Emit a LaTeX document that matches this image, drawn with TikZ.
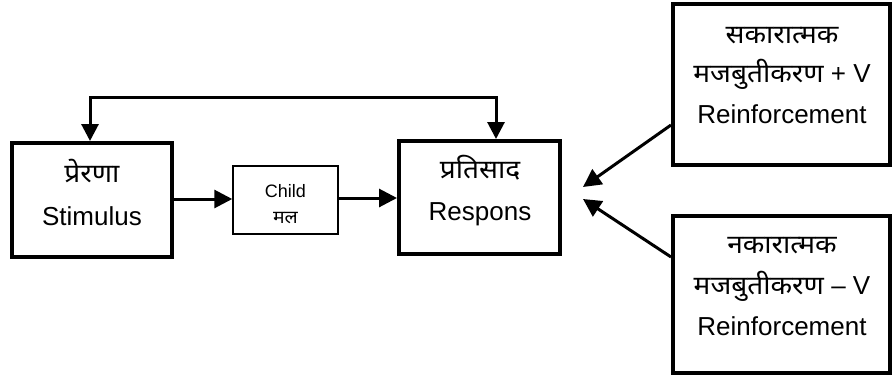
\documentclass[tikz,border=0pt]{standalone}
\usepackage{fontspec}
\setmainfont{Liberation Sans}
\newfontfamily\deva[Script=Devanagari,FakeStretch=1.08]{Noto Sans}
\usetikzlibrary{arrows.meta,calc}
\newcommand{\latbig}{\fontsize{26}{30}\selectfont}
\newcommand{\devbig}{\deva\fontsize{26}{30}\selectfont}
\newcommand{\latsm}{\fontsize{18}{20}\selectfont}
\newcommand{\devsm}{\deva\fontsize{18}{20}\selectfont}
\tikzset{
  bigbox/.style={draw, line width=4pt, inner sep=0pt},
  smallbox/.style={draw, line width=1.5pt, inner sep=0pt},
  lat/.style={font=\latbig, anchor=base, inner sep=0pt},
  dv/.style={font=\devbig, anchor=base, inner sep=0pt},
  latS/.style={font=\latsm, anchor=base, inner sep=0pt},
  dvS/.style={font=\devsm, anchor=base, inner sep=0pt},
  arr/.style={line width=3pt, -{Triangle[length=18pt,width=18pt]}},
  dblarr/.style={line width=3pt, {Triangle[length=17pt,width=17pt]}-{Triangle[length=17pt,width=17pt]}}
}
\begin{document}
\begin{tikzpicture}[x=1pt,y=-1pt]
\useasboundingbox (0,0) rectangle (894,383);
% boxes
\node[bigbox, minimum width=160pt, minimum height=114pt] (stim) at (92,200) {};
\node[smallbox, minimum width=105pt, minimum height=68pt] (child) at (285.5,200) {};
\node[bigbox, minimum width=161pt, minimum height=113pt] (resp) at (479.5,197.5) {};
\node[bigbox, minimum width=217pt, minimum height=161pt] (pos) at (781.5,84.5) {};
\node[bigbox, minimum width=217pt, minimum height=157pt] (neg) at (781.5,294.5) {};
% texts
\node[dv]  (stimA) at (92,182) {प्रेरणा};
\node[lat] (stimB) at (92,225) {Stimulus};
\node[latS] (childA) at (285.5,197) {Child};
\node[dvS]  (childB) at (285.5,223) {मल};
\node[dv]  (respA) at (480,178) {प्रतिसाद};
\node[lat] (respB) at (480,220) {Respons};
\node[dv]  (posA) at (782,43) {सकारात्मक};
\node[lat] (posB) at (782,82.5) {{\devbig मजबुतीकरण} + V};
\node[lat] (posC) at (782,123.5) {Reinforcement};
\node[dv]  (negA) at (782,253) {नकारात्मक};
\node[lat] (negB) at (782,294) {{\devbig मजबुतीकरण} – V};
\node[lat] (negC) at (782,335) {Reinforcement};
% connectors
\coordinate (fbL) at (90,97);
\coordinate (fbR) at (496,97);
\coordinate (tipA) at (583,187);
\coordinate (tipB) at (583,199);
\draw[arr] (stim.east |- 0,199) -- (child.west |- 0,199);
\draw[arr] (child.east |- 0,198) -- (resp.west |- 0,198);
\draw[dblarr] (stim.north -| fbL) -- (fbL) -- (fbR) -- (resp.north -| fbR);
\draw[arr] ($(pos.west)+(0,40.5)$) -- (tipA);
\draw[arr] ($(neg.west)+(0,-37.5)$) -- (tipB);
\end{tikzpicture}
\end{document}
